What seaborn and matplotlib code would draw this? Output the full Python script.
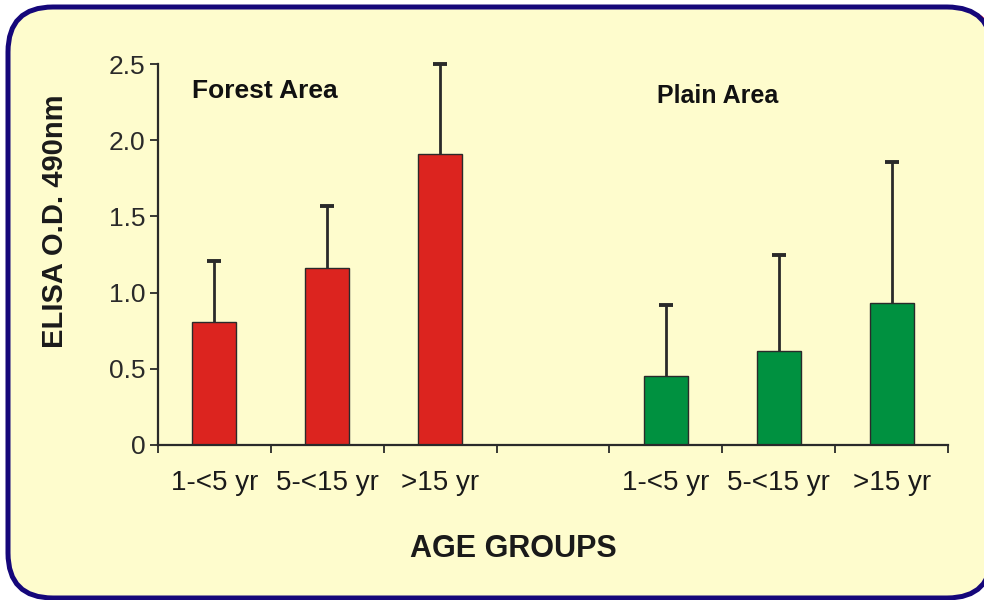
import matplotlib
matplotlib.use("Agg")
import matplotlib.pyplot as plt
from matplotlib.patches import FancyBboxPatch
import seaborn as sns
import pandas as pd
import numpy as np

# ---- data ----
areas = ["Forest Area", "Plain Area"]
age_groups = ["1-<5 yr", "5-<15 yr", ">15 yr"]
forest_means = [0.81, 1.16, 1.91]
forest_err = [0.40, 0.41, 0.59]
plain_means = [0.45, 0.62, 0.93]
plain_err = [0.47, 0.63, 0.93]
y_ticks = [0, 0.5, 1.0, 1.5, 2.0, 2.5]
y_tick_labels = ["0", "0.5", "1.0", "1.5", "2.0", "2.5"]

sns.set_theme(style="white")
plt.rcParams["font.family"] = ["Liberation Sans", "DejaVu Sans"]

BG = "#FEFCCD"
NAVY = "#15077A"
RED = "#DC241F"
GREEN = "#009140"
INK = "#2a2a2a"

# slots: 3 forest, 1 gap, 3 plain
slots = ["f0", "f1", "f2", "gap", "p0", "p1", "p2"]
df = pd.DataFrame({
    "slot": ["f0", "f1", "f2", "p0", "p1", "p2"],
    "area": [areas[0]] * 3 + [areas[1]] * 3,
    "mean": forest_means + plain_means,
    "err": forest_err + plain_err,
    "label": age_groups + age_groups,
})

fig = plt.figure(figsize=(9.84, 6.0), dpi=100)
fig.patch.set_facecolor("white")

# background frame
bg = fig.add_axes([0, 0, 1, 1], zorder=-5)
bg.set_xlim(0, 984)
bg.set_ylim(600, 0)
bg.axis("off")
red_box = FancyBboxPatch((11, 9), 984, 589, boxstyle="round,pad=0,rounding_size=45",
                         facecolor="none", edgecolor="#FF1010", linewidth=3.0)
bg.add_patch(red_box)
box = FancyBboxPatch((8, 7), 984, 591, boxstyle="round,pad=0,rounding_size=45",
                     facecolor=BG, edgecolor=NAVY, linewidth=3.6)
bg.add_patch(box)

ax = fig.add_axes([158 / 984, 155 / 600, 790 / 984, 381 / 600])
ax.set_facecolor("none")

sns.barplot(data=df, x="slot", y="mean", hue="area", order=slots,
            palette=[RED, GREEN], saturation=1, dodge=False, width=0.39,
            errorbar=None, edgecolor=INK, linewidth=1.0, legend=False, ax=ax)

xpos = np.array([slots.index(s) for s in df["slot"]])
tops = df["mean"].to_numpy() + df["err"].to_numpy()
ax.vlines(xpos, df["mean"], tops, color=INK, linewidth=2.0, zorder=1, clip_on=False)
ax.scatter(xpos, tops, marker="_", s=110, linewidths=2.8, color=INK, zorder=3, clip_on=False)

ax.set_xlim(-0.5, 6.5)
ax.set_ylim(0, 2.5)
ax.set_yticks(y_ticks)
ax.set_yticklabels(y_tick_labels, fontsize=19, color=INK)

# boundary ticks (major) and centred labels (minor)
ax.set_xticks(np.arange(-0.5, 7.0, 1.0))
ax.set_xticklabels([])
ax.set_xticks(xpos, minor=True)
ax.set_xticklabels(df["label"], minor=True, fontsize=20, color="#1a1a1a")
ax.tick_params(axis="x", which="major", direction="out", length=6, width=1.3, color=INK, bottom=True)
ax.tick_params(axis="x", which="minor", length=0, pad=18, bottom=True)
ax.tick_params(axis="y", direction="out", length=6, width=1.3, color=INK, pad=3, left=True)

for side in ["top", "right"]:
    ax.spines[side].set_visible(False)
for side in ["left", "bottom"]:
    ax.spines[side].set_color(INK)
    ax.spines[side].set_linewidth(1.6)

ax.set_xlabel("")
ax.set_ylabel("")

fig.text(513 / 984, 1 - 549 / 600, "AGE GROUPS", fontsize=22, fontweight="bold",
         color="#1a1a1a", ha="center", va="center")
fig.text(55 / 984, 1 - 221 / 600, "ELISA O.D. 490nm", fontsize=21, fontweight="bold",
         color="#1a1a1a", ha="center", va="center", rotation=90)

ax.text(-0.2, 2.32, areas[0], fontsize=19, fontweight="bold", color="#111111",
        ha="left", va="center")
ax.text(3.92, 2.29, areas[1], fontsize=18, fontweight="bold", color="#111111",
        ha="left", va="center")

fig.savefig("out.png", dpi=100, facecolor=fig.get_facecolor())
